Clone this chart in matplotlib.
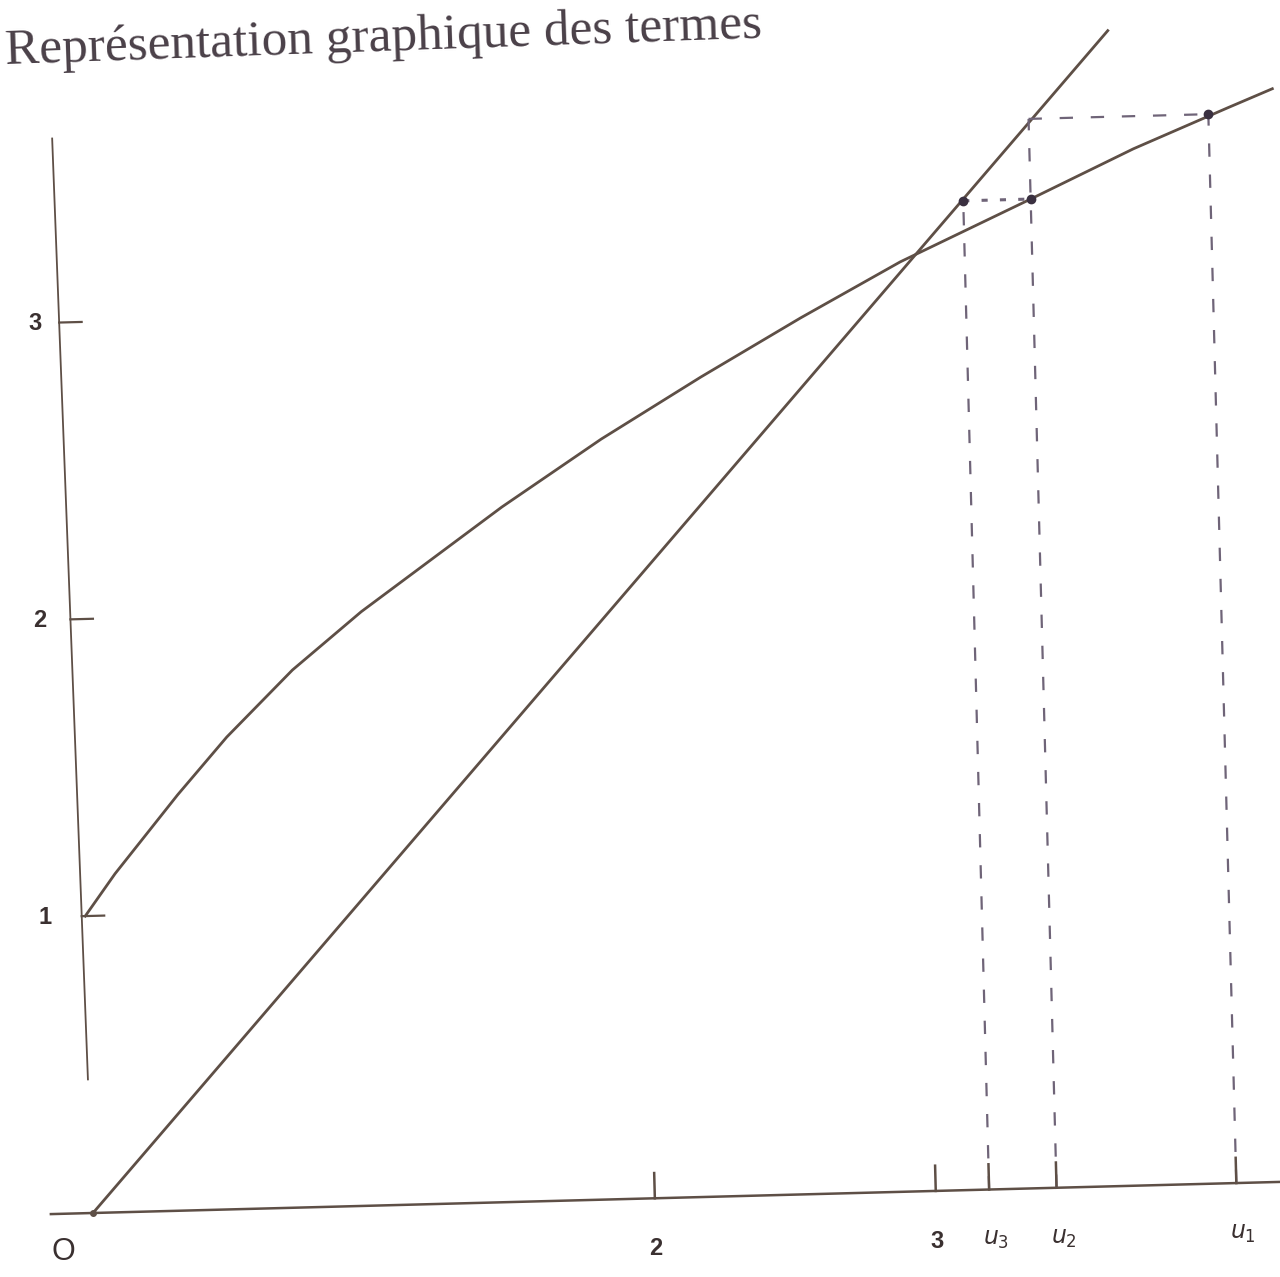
import numpy as np
import matplotlib.pyplot as plt
from matplotlib.transforms import Affine2D

# curve y = f(x)
curve_x = [0.0, 0.11, 0.34, 0.52, 0.76, 1.01, 1.37, 1.52, 1.88, 2.24, 2.60, 2.96, 3.43, 3.80, 4.14, 4.30]
curve_y = [1.0, 1.14, 1.40, 1.59, 1.81, 2.00, 2.24, 2.34, 2.56, 2.76, 2.95, 3.13, 3.33, 3.49, 3.62, 3.68]

# the line "y = x" as drawn
diag_x = [0.0, 3.72]
diag_y = [0.0, 3.89]

# terms of the sequence and their images
u_names = ['$u_1$', '$u_2$', '$u_3$']
u_vals = [4.07, 3.43, 3.19]
f_vals = [3.60, 3.33, 3.16]

x_ticks = [2, 3]
y_ticks = [1, 2, 3]

line_col = '#5e4f46'
dash_col = '#6f6478'
dot_col = '#3a3040'

fig = plt.figure(figsize=(12.8, 12.77), dpi=100)
ax = fig.add_axes([0, 0, 1, 1])
ax.set_xlim(-0.331, 4.224)
ax.set_ylim(-0.2155, 4.084)
ax.axis('off')

# the scanned page is slightly turned
tr = ax.transData + Affine2D().rotate_deg_around(93, 64, 1.5)
lean = -0.0125  # vertical axis leans a bit more than the rest

# axes
ax.plot([-0.15, 4.4], [0, 0], color=line_col, lw=1.8, transform=tr)
ax.plot([0.45 * lean, 3.62 * lean], [0.45, 3.62], color=line_col, lw=1.3, transform=tr)
ax.plot([0], [0], 'o', color=line_col, ms=4, transform=tr)

# curve and diagonal
ax.plot(curve_x, curve_y, color=line_col, lw=2.0, transform=tr)
ax.plot(diag_x, diag_y, color=line_col, lw=2.0, transform=tr)

# cobweb
u1, u2, u3 = u_vals
dash = (0, (6, 8))
ax.plot([u1, u1], [0, f_vals[0]], ls=dash, color=dash_col, lw=1.6, transform=tr)
ax.plot([u2, u2], [0, f_vals[0]], ls=dash, color=dash_col, lw=1.6, transform=tr)
ax.plot([u3, u3], [0, f_vals[1]], ls=dash, color=dash_col, lw=1.6, transform=tr)
ax.plot([u2, u1], [f_vals[0], f_vals[0]], ls=dash, color=dash_col, lw=1.6, transform=tr)
ax.plot([u3, u2], [f_vals[1], f_vals[1]], ls=(0, (2, 4)), color=dash_col, lw=2.2, transform=tr)
ax.plot([u1, u2, u3], [f_vals[0], f_vals[1], f_vals[1]], 'o', color=dot_col, ms=6, transform=tr)

# ticks
for t in x_ticks + u_vals:
    ax.plot([t, t], [0, 0.085], color=line_col, lw=1.8, transform=tr)
for t in y_ticks:
    ax.plot([t * lean, t * lean + 0.08], [t, t], color=line_col, lw=1.6, transform=tr)

lab = dict(fontsize=17, family='Liberation Sans', weight='bold', color='#3a3030',
           ha='center', va='center', transform=tr)
ax.text(-0.11, -0.13, 'O', fontsize=22, family='Liberation Sans', color='#3a3030',
        ha='center', va='center', transform=tr)
for t in x_ticks:
    ax.text(t, -0.17, str(t), **lab)
for name, t in zip(u_names, u_vals):
    ax.text(t + 0.02, -0.17, name, **lab)
for t in y_ticks:
    ax.text(-0.155 + 0.0105 * t, t, str(t), **lab)

fig.text(0.004, 0.950, 'Représentation graphique des termes',
         fontsize=37, family='Liberation Serif', color='#4a4048',
         rotation=2, rotation_mode='anchor', ha='left', va='baseline')

fig.savefig('out.png', dpi=100)
